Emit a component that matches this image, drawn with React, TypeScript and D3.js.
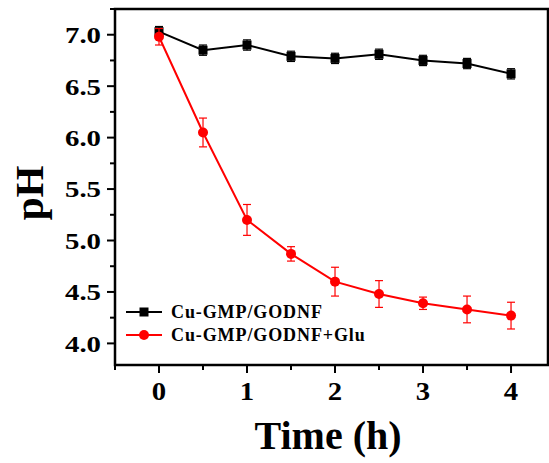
import React from "react";
import { scaleLinear, line, range } from "d3";

// Datos
const times = [0, 0.5, 1, 1.5, 2, 2.5, 3, 3.5, 4];
const phControl = [7.03, 6.85, 6.9, 6.79, 6.77, 6.81, 6.75, 6.72, 6.62];
const errControl = [0.05, 0.05, 0.05, 0.05, 0.05, 0.05, 0.05, 0.05, 0.05];
const phGlu = [6.98, 6.05, 5.2, 4.87, 4.6, 4.48, 4.39, 4.33, 4.27];
const errGlu = [0.08, 0.14, 0.15, 0.07, 0.14, 0.13, 0.06, 0.13, 0.13];
const xTicks = [0, 1, 2, 3, 4];
const yTicks = [4.0, 4.5, 5.0, 5.5, 6.0, 6.5, 7.0];
const seriesNames = ["Cu-GMP/GODNF", "Cu-GMP/GODNF+Glu"];

const W = 549;
const H = 463;
const m = { left: 115, right: 1, top: 9, bottom: 98 };

const App: React.FC = () => {
  const x = scaleLinear().domain([-0.5, 4.42]).range([m.left, W - m.right]);
  const y = scaleLinear().domain([3.79, 7.25]).range([H - m.bottom, m.top]);
  const font = "'Liberation Serif', 'Times New Roman', serif";

  const series = [
    { vals: phControl, err: errControl, color: "#000", shape: "square" },
    { vals: phGlu, err: errGlu, color: "#ff0000", shape: "circle" },
  ];

  const marker = (shape: string, cx: number, cy: number, color: string) =>
    shape === "square" ? (
      <rect x={cx - 4.5} y={cy - 4.5} width={9} height={9} fill={color} />
    ) : (
      <circle cx={cx} cy={cy} r={5} fill={color} />
    );

  const bottom = H - m.bottom;

  return (
    <svg width={W} height={H} style={{ position: "absolute", left: 0, top: 0, background: "#fff" }}>
      {/* Series */}
      {series.map((s, si) => {
        const path = line<number>()
          .x((_, i) => x(times[i]))
          .y((d) => y(d))(s.vals);
        return (
          <g key={si}>
            <path d={path ?? ""} fill="none" stroke={s.color} strokeWidth={2} />
            {s.vals.map((v, i) => {
              const cx = x(times[i]);
              return (
                <g key={i} stroke={s.color} strokeWidth={1.2}>
                  <line x1={cx} x2={cx} y1={y(v - s.err[i])} y2={y(v + s.err[i])} />
                  <line x1={cx - 4} x2={cx + 4} y1={y(v - s.err[i])} y2={y(v - s.err[i])} />
                  <line x1={cx - 4} x2={cx + 4} y1={y(v + s.err[i])} y2={y(v + s.err[i])} />
                </g>
              );
            })}
            {s.vals.map((v, i) => (
              <g key={"m" + i}>{marker(s.shape, x(times[i]), y(v), s.color)}</g>
            ))}
          </g>
        );
      })}

      {/* Marco */}
      <rect
        x={m.left}
        y={m.top}
        width={W - m.right - m.left}
        height={bottom - m.top}
        fill="none"
        stroke="#000"
        strokeWidth={2.5}
      />

      {/* Eje Y */}
      {range(16).map((i) => {
        const v = 4.0 + i * 0.25 - 0.25;
        if (v < 3.79 || v > 7.25) return null;
        const major = Math.abs((v * 2) % 1) < 1e-6;
        return (
          <line
            key={i}
            x1={m.left - (major ? 8 : 5)}
            x2={m.left}
            y1={y(v)}
            y2={y(v)}
            stroke="#000"
            strokeWidth={2}
          />
        );
      })}
      {yTicks.map((v) => (
        <text
          key={v}
          transform={`translate(${m.left - 14},${y(v)}) scale(1.2,1)`}
          dy="0.35em"
          textAnchor="end"
          fontFamily={font}
          fontWeight="bold"
          fontSize={24}
        >
          {v.toFixed(1)}
        </text>
      ))}

      {/* Eje X */}
      {range(-0.5, 4.5, 0.5).map((v) => {
        const major = Number.isInteger(v);
        return (
          <line
            key={v}
            x1={x(v)}
            x2={x(v)}
            y1={bottom}
            y2={bottom + (major ? 8 : 5)}
            stroke="#000"
            strokeWidth={2}
          />
        );
      })}
      {xTicks.map((v) => (
        <text
          key={v}
          transform={`translate(${x(v)},400) scale(1.15,1)`}
          textAnchor="middle"
          fontFamily={font}
          fontWeight="bold"
          fontSize={25}
        >
          {v}
        </text>
      ))}

      {/* Títulos */}
      <text
        x={328}
        y={449}
        textAnchor="middle"
        fontFamily={font}
        fontWeight="bold"
        fontSize={40}
      >
        Time (h)
      </text>
      <text
        transform={`translate(43, 193) rotate(-90)`}
        textAnchor="middle"
        fontFamily={font}
        fontWeight="bold"
        fontSize={41}
      >
        pH
      </text>

      {/* Leyenda */}
      {series.map((s, i) => {
        const ly = 312 + i * 23;
        return (
          <g key={i}>
            <line x1={126} x2={162} y1={ly} y2={ly} stroke={s.color} strokeWidth={2} />
            {marker(s.shape, 144, ly, s.color)}
            <text
              x={171}
              y={ly}
              dy="0.35em"
              fontFamily={font}
              fontWeight="bold"
              fontSize={18}
              letterSpacing={0.9}
            >
              {seriesNames[i]}
            </text>
          </g>
        );
      })}
    </svg>
  );
};

export default App;
